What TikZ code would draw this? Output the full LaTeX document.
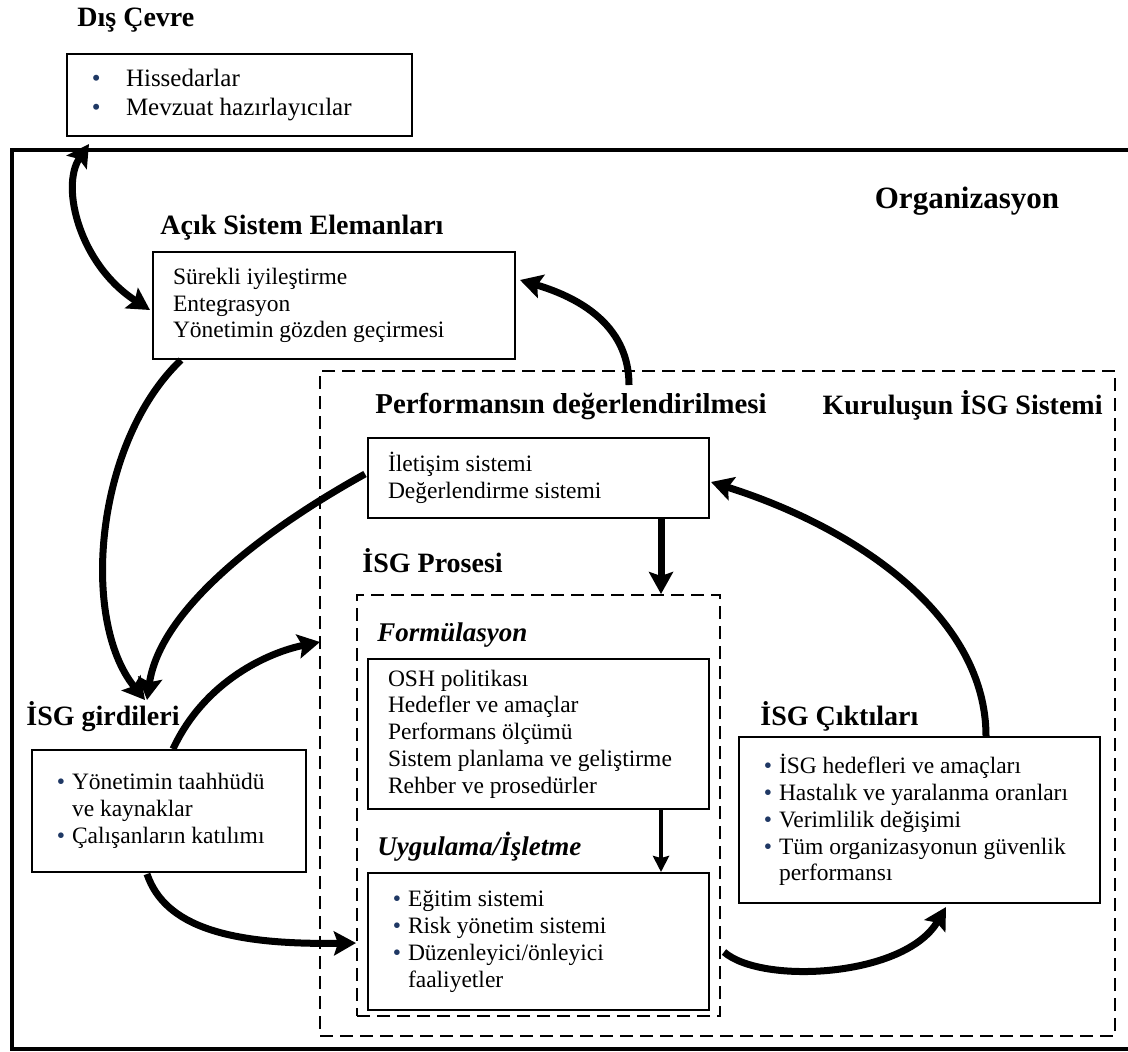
\documentclass[tikz,border=0pt]{standalone}
\usepackage{fontspec}
\setmainfont{Liberation Serif}
\usepackage{xcolor}
\usetikzlibrary{arrows.meta,calc}

\begin{document}
\begin{tikzpicture}[x=0.5pt, y=-0.5pt,
    infobox/.style={draw, line width=1pt, inner xsep=10pt, inner ysep=0pt, align=flush left,
        font=\fontsize{11.75}{13.4}\selectfont},
    headtext/.style={inner sep=0pt, font=\fontsize{14}{16}\selectfont\bfseries},
    subheadtext/.style={inner sep=0pt, font=\fontsize{13.5}{16}\selectfont\bfseries\itshape},
    orgframe/.style={draw, line width=2.2pt, anchor=north west, inner sep=0pt},
    sysframe/.style={draw, line width=1pt, dash pattern=on 6.5pt off 3.5pt, anchor=north west, inner sep=0pt},
    flow/.style={line width=3.5pt, -{Stealth[length=11pt,width=12pt,inset=2pt]}},
    twoway/.style={line width=3.5pt, {Stealth[length=11pt,width=12pt,inset=2pt]}-{Stealth[length=11pt,width=12pt,inset=2pt]}},
    thinflow/.style={line width=2.2pt, -{Stealth[length=8pt,width=8pt,inset=1pt]}}
]
\useasboundingbox (0,0) rectangle (1128,1051);

% Define colors
\definecolor{bulletcol}{RGB}{31,56,100}

% Helpers for boxes and bullets
\newcommand{\bul}[1][10pt]{\makebox[#1][l]{\hspace{2.4pt}\textcolor{bulletcol}{\textbullet}}}
\newcommand{\textbox}[7][]{%
    % #2 = name, #3/#4 = top left corner, #5 = width, #6 = height, #7 = text
    \pgfmathsetmacro{\boxtw}{#5/2-20}
    \node[infobox, anchor=north west, minimum width=#5*0.5pt, minimum height=#6*0.5pt,
          text width=\boxtw pt, #1] (#2) at (#3,#4) {#7};
}

% Frames
\node[orgframe, minimum width=1118*0.5pt, minimum height=899*0.5pt] (org) at (10,148) {};
\node[sysframe, minimum width=795*0.5pt, minimum height=665*0.5pt] (sys) at (319,370) {};
\node[sysframe, minimum width=363*0.5pt, minimum height=421*0.5pt] (proc) at (356,594) {};

% Headings
\node[headtext, anchor=base west] (dish) at (77,26) {Dış Çevre};
\node[headtext, anchor=base, font=\fontsize{15.5}{18}\selectfont\bfseries] (orgh) at (967,208) {Organizasyon};
\node[headtext, anchor=base west] (acikh) at (160,234) {Açık Sistem Elemanları};
\node[headtext, anchor=base west, font=\fontsize{14.4}{16}\selectfont\bfseries] (perfh) at (375,413) {Performansın değerlendirilmesi};
\node[headtext, anchor=base east] (sysh) at (1103,414) {Kuruluşun İSG Sistemi};
\node[headtext, anchor=base west] (proch) at (362,572) {İSG Prosesi};
\node[subheadtext, anchor=base west] (formh) at (377,641) {Formülasyon};
\node[subheadtext, anchor=base west] (uygh) at (377,855) {Uygulama/İşletme};
\node[headtext, anchor=base west] (girdih) at (26,725) {İSG girdileri};
\node[headtext, anchor=base west] (ciktih) at (760,725) {İSG Çıktıları};

% Boxes
\textbox[font=\fontsize{12.5}{14.5}\selectfont]{dis}{66}{53}{345}{82}{%
    \bul[19.5pt]Hissedarlar\\ \bul[19.5pt]Mevzuat hazırlayıcılar}
\textbox{acik}{152}{251}{362}{107}{%
    Sürekli iyileştirme\\ Entegrasyon\\ Yönetimin gözden geçirmesi}
\textbox{perf}{367}{437}{341}{80}{%
    İletişim sistemi\\ Değerlendirme sistemi}
\textbox{form}{367}{658}{341}{150}{%
    OSH politikası\\ Hedefler ve amaçlar\\ Performans ölçümü\\
    Sistem planlama ve geliştirme\\ Rehber ve prosedürler}
\textbox{uyg}{367}{872}{341}{137}{%
    \bul Eğitim sistemi\\ \bul Risk yönetim sistemi\\ \bul Düzenleyici/önleyici\\
    \hspace*{10pt}faaliyetler}
\textbox{girdi}{31}{749}{274}{122}{%
    \bul Yönetimin taahhüdü\\ \hspace*{10pt}ve kaynaklar\\ \bul Çalışanların katılımı\par\vspace*{7pt}}
\textbox{cikti}{738}{736}{361}{166}{%
    \bul İSG hedefleri ve amaçları\\ \bul Hastalık ve yaralanma oranları\\
    \bul Verimlilik değişimi\\ \bul Tüm organizasyonun güvenlik\\ \hspace*{10pt}performansı}

% Connectors
\draw[twoway] ($(dis.south west)+(23,7)$) .. controls +(-29,43) and +(-70,-45) .. ($(acik.north west)+(-2,59)$);
\draw[flow] ($(acik.south west)+(29,0)$) .. controls +(-86,82) and +(-65,-80) .. ($(girdih.base west)+(119,-25)$);
\draw[flow] ($(perf.west)+(-2,-4)$) .. controls +(-103,57) and +(13,-90) .. ($(girdih.base west)+(121,-25)$);
\draw[flow] ($(girdi.north west)+(142,0)$) .. controls +(32,-69) and +(-50,10) .. ($(sys.north west)+(1,272)$);
\draw[flow] ($(girdi.south west)+(116,1)$) .. controls +(18,53) and +(-126,2) .. ($(proc.north west)+(0,349)$);
\draw[flow] ($(proc.north east)+(3,358)$) .. controls +(38,33) and +(-41,70) .. ($(cikti.south west)+(208,3)$);
\draw[flow] ($(cikti.north west)+(248,0)$) .. controls +(0,-116) and +(152,48) .. ($(perf.north east)+(1,45)$);
\draw[flow] ($(perfh.base west)+(254,-28)$) .. controls +(0,-55) and +(67,20) .. ($(acik.north east)+(4,29)$);
\draw[flow] ($(perf.south west)+(294,0)$) -- ($(proc.north west)+(305,0)$);
\draw[thinflow] ($(form.south west)+(294,0)$) -- ($(uyg.north west)+(294,0)$);

\end{tikzpicture}
\end{document}
